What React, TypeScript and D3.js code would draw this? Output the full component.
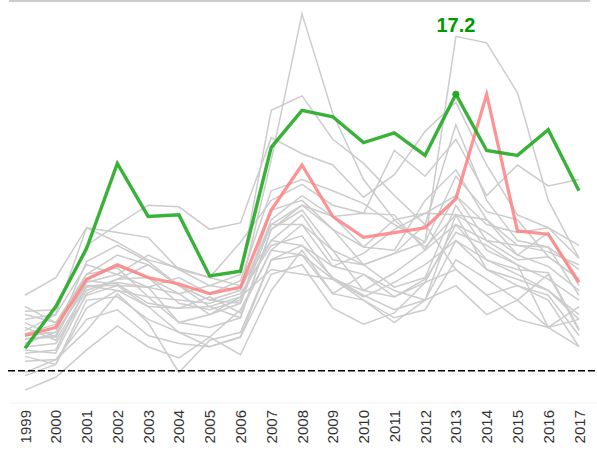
import React from "react";
import * as d3 from "d3";

const years = [1999, 2000, 2001, 2002, 2003, 2004, 2005, 2006, 2007, 2008, 2009, 2010, 2011, 2012, 2013, 2014, 2015, 2016, 2017];

const greenSeries = [1.4, 4.0, 7.6, 12.9, 9.6, 9.7, 5.9, 6.2, 13.9, 16.2, 15.8, 14.2, 14.8, 13.4, 17.2, 13.7, 13.4, 15.0, 11.2];
const pinkSeries = [2.2, 2.7, 5.7, 6.6, 5.8, 5.4, 4.8, 5.2, 10.0, 12.8, 9.6, 8.3, 8.6, 8.9, 10.7, 17.2, 8.7, 8.5, 5.5];

const gray01 = [3.5, 3.0, 6.0, 7.2, 6.6, 5.3, 4.4, 5.0, 13.1, 22.2, 16.0, 11.9, 9.4, 7.7, 9.7, 8.6, 7.2, 6.5, 5.0];
const gray02 = [2.0, 2.2, 5.5, 6.0, 5.2, 4.8, 3.5, 4.2, 9.1, 10.3, 8.8, 6.6, 7.3, 8.0, 20.8, 20.4, 17.3, 10.6, 7.0];
const gray03 = [4.7, 5.8, 8.9, 8.6, 8.3, 6.3, 5.3, 6.0, 16.2, 17.1, 14.4, 12.9, 10.9, 9.1, 15.3, 10.6, 8.1, 7.7, 6.3];
const gray04 = [3.7, 3.8, 7.8, 9.1, 10.3, 10.2, 8.8, 9.2, 14.5, 13.5, 12.8, 10.8, 12.2, 14.9, 16.7, 12.8, 9.7, 8.9, 7.8];
const gray05 = [2.5, 3.5, 8.9, 8.0, 6.9, 6.4, 5.8, 8.0, 10.6, 11.6, 10.3, 9.8, 13.7, 12.1, 14.4, 10.9, 12.8, 11.5, 11.9];
const gray06 = [2.7, 1.9, 5.0, 5.7, 5.8, 4.2, 3.8, 4.4, 9.4, 10.9, 9.6, 7.7, 7.5, 10.6, 12.5, 9.4, 7.8, 7.4, 6.6];
const gray07 = [1.1, 1.3, 5.3, 5.0, 4.6, 3.0, 2.7, 3.3, 8.8, 10.0, 7.5, 5.0, 6.1, 7.5, 10.9, 8.1, 6.9, 7.1, 5.7];
const gray08 = [1.5, 1.7, 4.7, 5.3, 4.0, 3.9, 4.0, 4.6, 8.1, 9.7, 6.9, 6.6, 5.2, 5.8, 10.3, 7.5, 6.6, 5.7, 4.4];
const gray09 = [-0.3, 0.4, 4.4, 4.6, 3.2, 2.4, 2.1, 3.8, 7.5, 9.1, 6.5, 6.0, 4.6, 5.5, 9.1, 6.9, 6.0, 5.0, 3.5];
const gray10 = [0.6, 0.7, 3.2, 3.8, 2.2, 1.7, 1.5, 2.1, 6.9, 7.8, 5.8, 4.7, 3.8, 4.4, 8.1, 6.3, 5.3, 4.7, 2.2];
const gray11 = [-1.2, -0.4, 1.3, 2.8, 1.5, 0.8, 2.1, 1.0, 5.0, 7.5, 4.8, 4.4, 3.3, 3.8, 6.9, 5.7, 4.4, 2.7, 1.5];
const gray12 = [2.2, 2.4, 6.8, 7.8, 6.8, 5.3, 4.4, 4.2, 10.0, 10.6, 8.8, 7.7, 9.4, 9.8, 9.7, 9.4, 7.2, 8.6, 5.3];
const gray13 = [3.0, 2.1, 5.7, 6.5, 5.8, 4.8, 5.3, 5.0, 9.1, 9.1, 7.5, 6.6, 7.3, 9.1, 6.3, 4.7, 3.2, 2.7, 3.2];
const gray14 = [4.0, 3.0, 5.3, 5.3, 5.2, 3.0, 3.5, 4.6, 6.3, 6.0, 5.7, 4.4, 3.0, 4.4, 5.3, 3.5, 4.4, 6.0, 2.5];
const gray15 = [0.9, 0.4, 3.9, 5.0, 4.0, 2.4, 1.5, 2.1, 6.0, 6.6, 3.9, 2.9, 3.6, 5.5, 6.3, 4.7, 5.3, 4.4, 1.5];
const gray16 = [2.0, 2.1, 5.6, 5.4, 4.2, 3.9, 4.6, 3.6, 7.5, 7.2, 5.7, 5.0, 4.6, 5.7, 8.6, 7.8, 6.6, 2.7, 4.0];
const gray17 = [1.3, 1.1, 4.8, 5.7, 6.6, 5.3, 4.0, 3.3, 8.8, 10.3, 9.6, 9.8, 9.7, 7.5, 9.1, 8.1, 7.8, 7.7, 4.7];
const gray18 = [-0.1, 0.7, 2.5, 4.8, 3.0, -0.1, 1.9, 2.4, 6.9, 7.2, 4.8, 6.0, 5.0, 4.4, 9.7, 6.3, 5.7, 5.0, 3.2];
const gray19 = [3.2, 3.5, 6.6, 6.0, 7.2, 6.3, 5.8, 5.3, 8.1, 7.8, 6.5, 7.3, 8.8, 9.8, 10.9, 9.1, 8.6, 8.9, 7.0];
const gray20 = [1.7, 2.4, 5.2, 5.5, 5.2, 5.8, 4.8, 5.6, 11.2, 11.9, 11.2, 10.4, 9.1, 8.0, 12.1, 9.9, 9.4, 7.1, 5.7];
const gray21 = [2.3, 2.9, 6.0, 6.4, 4.6, 4.4, 4.2, 4.8, 7.8, 8.4, 5.7, 4.6, 5.5, 6.6, 8.1, 6.9, 6.3, 6.1, 2.6];

const graySeries = [gray01, gray02, gray03, gray04, gray05, gray06, gray07, gray08, gray09, gray10, gray11, gray12, gray13, gray14, gray15, gray16, gray17, gray18, gray19, gray20, gray21];

const referenceValue = 0;
const highlightLabel = "17.2";
const highlightYear = 2013;

const W = 597;
const H = 450;

export default function App() {
  const x = d3.scalePoint<number>().domain(years).range([25, 579]);
  const y = d3.scaleLinear().domain([-2, 23]).range([403, 1]);
  const line = d3
    .line<number>()
    .x((_, i) => x(years[i]) as number)
    .y((d) => y(d));

  const hi = years.indexOf(highlightYear);
  const hx = x(highlightYear) as number;
  const hy = y(greenSeries[hi]);

  return (
    <svg
      width={W}
      height={H}
      style={{ position: "absolute", left: 0, top: 0, fontFamily: "Liberation Sans, Arial, sans-serif" }}
    >
      <line x1={9} x2={590} y1={1} y2={1} stroke="#bbbbbb" strokeWidth={1.5} />
      <line x1={9} x2={597} y1={403} y2={403} stroke="#f0f0f0" strokeWidth={1} />
      {graySeries.map((s, i) => (
        <path key={i} d={line(s) || ""} fill="none" stroke="#cccccc" strokeWidth={1.5} />
      ))}
      <line
        x1={8}
        x2={597}
        y1={y(referenceValue)}
        y2={y(referenceValue)}
        stroke="#000"
        strokeWidth={1.5}
        strokeDasharray="7,3"
      />
      <path d={line(pinkSeries) || ""} fill="none" stroke="#ff8080" strokeOpacity={0.85} strokeWidth={3.2} />
      <path d={line(greenSeries) || ""} fill="none" stroke="#22aa22" strokeOpacity={0.9} strokeWidth={3.4} />
      <circle cx={hx} cy={hy} r={3.5} fill="#22aa22" />
      <text x={hx} y={32} textAnchor="middle" fontSize={20} fontWeight="bold" fill="#009900">
        {highlightLabel}
      </text>
      {years.map((yr) => (
        <text
          key={yr}
          transform={`translate(${x(yr)},410) rotate(-90)`}
          textAnchor="end"
          dominantBaseline="central"
          fontSize={15}
          fill="#333"
        >
          {yr}
        </text>
      ))}
    </svg>
  );
}
